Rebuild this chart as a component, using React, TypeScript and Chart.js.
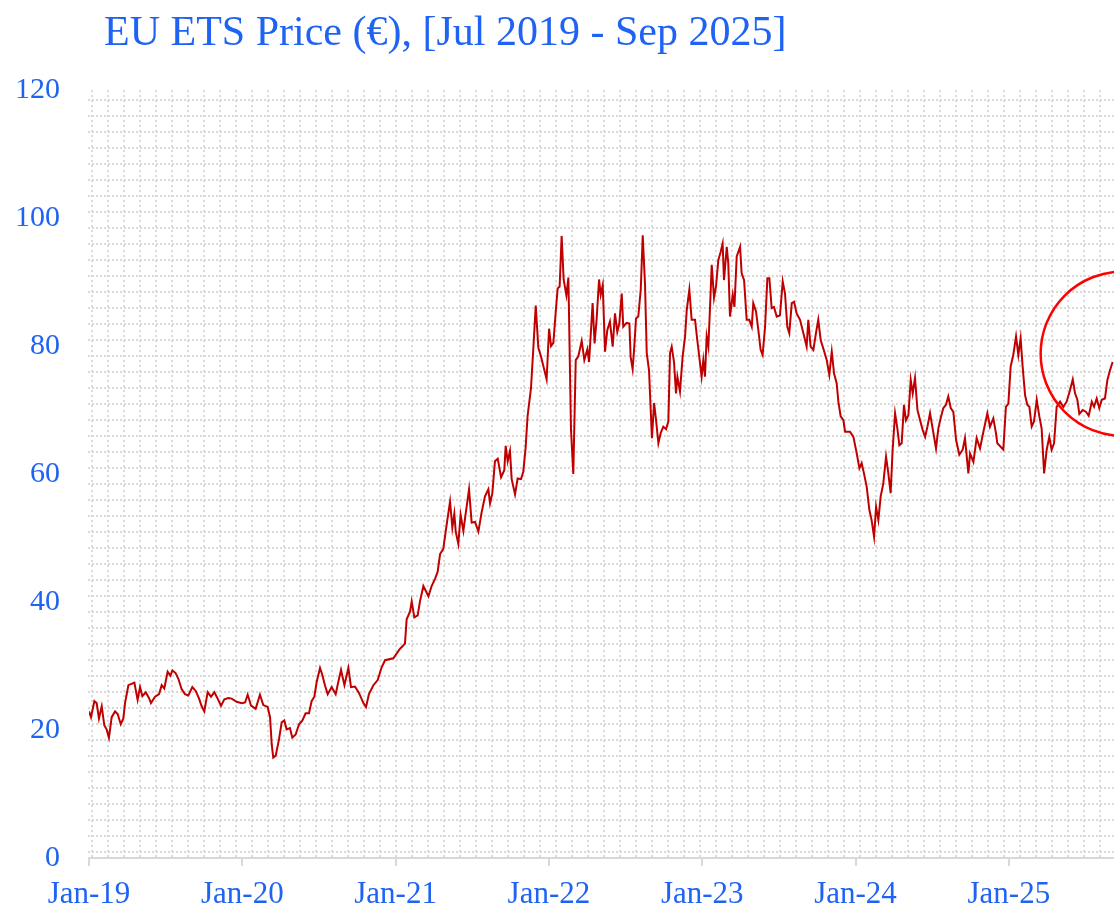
import React, { useEffect, useRef } from "react";
import { Chart, registerables } from "chart.js";

Chart.register(...registerables);

const TITLE = "EU ETS Price (€), [Jul 2019 - Sep 2025]";

// Time position in decimal years (2019.0 = Jan 2019)
const years = [
  2019.000, 2019.013, 2019.035, 2019.050, 2019.065, 2019.083, 2019.100, 2019.115, 2019.130, 2019.148,
  2019.170, 2019.187, 2019.207, 2019.224, 2019.235, 2019.257, 2019.296, 2019.317, 2019.333, 2019.348,
  2019.370, 2019.391, 2019.404, 2019.431, 2019.457, 2019.474, 2019.491, 2019.513, 2019.531, 2019.544,
  2019.565, 2019.583, 2019.604, 2019.626, 2019.648, 2019.674, 2019.696, 2019.718, 2019.735, 2019.752,
  2019.774, 2019.796, 2019.818, 2019.839, 2019.861, 2019.883, 2019.909, 2019.931, 2019.963, 2019.996,
  2020.018, 2020.035, 2020.057, 2020.087, 2020.115, 2020.137, 2020.165, 2020.181, 2020.192, 2020.202,
  2020.218, 2020.239, 2020.257, 2020.274, 2020.289, 2020.311, 2020.326, 2020.348, 2020.370, 2020.392,
  2020.413, 2020.435, 2020.452, 2020.470, 2020.485, 2020.507, 2020.522, 2020.539, 2020.557, 2020.583,
  2020.609, 2020.626, 2020.644, 2020.666, 2020.692, 2020.709, 2020.735, 2020.761, 2020.790, 2020.807,
  2020.826, 2020.855, 2020.883, 2020.909, 2020.931, 2020.985, 2021.029, 2021.061, 2021.072, 2021.094,
  2021.105, 2021.122, 2021.144, 2021.159, 2021.181, 2021.214, 2021.235, 2021.257, 2021.274, 2021.290,
  2021.311, 2021.333, 2021.355, 2021.370, 2021.383, 2021.392, 2021.409, 2021.424, 2021.442, 2021.457,
  2021.479, 2021.496, 2021.518, 2021.540, 2021.561, 2021.583, 2021.605, 2021.616, 2021.631, 2021.648,
  2021.666, 2021.688, 2021.709, 2021.718, 2021.731, 2021.746, 2021.757, 2021.779, 2021.796, 2021.818,
  2021.833, 2021.848, 2021.861, 2021.883, 2021.898, 2021.914, 2021.931, 2021.948, 2021.985, 2022.001,
  2022.014, 2022.029, 2022.044, 2022.057, 2022.070, 2022.083, 2022.096, 2022.114, 2022.127, 2022.144,
  2022.159, 2022.175, 2022.192, 2022.214, 2022.231, 2022.251, 2022.262,
  2022.285, 2022.298, 2022.311, 2022.327, 2022.338, 2022.351, 2022.366, 2022.381, 2022.398, 2022.416,
  2022.431, 2022.446, 2022.459, 2022.475, 2022.485, 2022.507, 2022.525, 2022.533, 2022.546, 2022.557,
  2022.568, 2022.583, 2022.599, 2022.612, 2022.627, 2022.638, 2022.653, 2022.664, 2022.672, 2022.686,
  2022.699, 2022.714, 2022.729, 2022.746, 2022.764, 2022.779, 2022.790, 2022.801, 2022.816, 2022.829,
  2022.838, 2022.855, 2022.872, 2022.888, 2022.899, 2022.916, 2022.931, 2022.953, 2022.968, 2022.996,
  2023.007, 2023.018, 2023.029, 2023.040, 2023.051, 2023.062, 2023.077, 2023.090, 2023.105, 2023.120,
  2023.133, 2023.142, 2023.160, 2023.170, 2023.181, 2023.199, 2023.210, 2023.225, 2023.247, 2023.257,
  2023.273, 2023.290, 2023.307, 2023.323, 2023.333, 2023.351, 2023.366, 2023.381, 2023.394, 2023.410,
  2023.425, 2023.438, 2023.453, 2023.468, 2023.486, 2023.507, 2023.525, 2023.540, 2023.555, 2023.568,
  2023.584, 2023.599, 2023.616, 2023.638, 2023.660, 2023.681, 2023.692, 2023.707, 2023.725, 2023.742,
  2023.757, 2023.773, 2023.790, 2023.812, 2023.829, 2023.845, 2023.860, 2023.877, 2023.888, 2023.903,
  2023.921, 2023.932, 2023.964, 2023.986, 2024.008, 2024.025, 2024.040, 2024.055, 2024.073, 2024.090,
  2024.105, 2024.121, 2024.134, 2024.149, 2024.164, 2024.181, 2024.199, 2024.214, 2024.229, 2024.242,
  2024.258, 2024.273, 2024.286, 2024.301, 2024.316, 2024.329, 2024.345, 2024.360, 2024.373, 2024.388,
  2024.404, 2024.421, 2024.438, 2024.454, 2024.469, 2024.486, 2024.508, 2024.525, 2024.540, 2024.555,
  2024.573, 2024.590, 2024.605, 2024.621, 2024.638, 2024.656, 2024.677, 2024.699, 2024.714, 2024.736,
  2024.747, 2024.769, 2024.790, 2024.812, 2024.834, 2024.860, 2024.877, 2024.899, 2024.916, 2024.925,
  2024.964, 2024.981, 2024.997, 2025.012, 2025.029, 2025.047, 2025.062, 2025.077, 2025.090, 2025.106,
  2025.121, 2025.134, 2025.149, 2025.164, 2025.182, 2025.199, 2025.214, 2025.230, 2025.247, 2025.264,
  2025.279, 2025.295, 2025.312, 2025.334, 2025.356, 2025.377, 2025.399, 2025.417, 2025.432, 2025.447,
  2025.460, 2025.482, 2025.504, 2025.521, 2025.541, 2025.556, 2025.573, 2025.590, 2025.606, 2025.627,
  2025.643, 2025.660, 2025.677,
];

// EU ETS price (€)
const prices = [
  22.9, 22.0, 24.5, 24.2, 21.8, 23.7, 20.7, 20.1, 18.8, 22.0,
  22.9, 22.5, 20.9, 21.8, 24.2, 27.0, 27.4, 24.7, 26.7, 25.3,
  25.9, 25.0, 24.2, 25.2, 25.6, 27.0, 26.5, 29.1, 28.5, 29.3,
  28.9, 28.0, 26.4, 25.6, 25.4, 26.7, 26.1, 24.9, 23.7, 22.9,
  25.9, 25.2, 25.9, 24.9, 23.8, 24.8, 25.0, 24.9, 24.4, 24.2,
  24.3, 25.5, 23.8, 23.3, 25.5, 23.9, 23.6, 22.0, 17.7, 15.7,
  16.0, 18.5, 21.2, 21.5, 20.1, 20.3, 18.8, 19.3, 20.9, 21.5,
  22.6, 22.6, 24.5, 25.2, 27.5, 29.7, 28.6, 27.0, 25.6, 26.7,
  25.6, 27.5, 29.4, 27.0, 29.7, 26.7, 26.8, 25.8, 24.2, 23.6,
  25.6, 27.0, 27.8, 29.8, 30.9, 31.2, 32.7, 33.5, 37.3, 38.5,
  40.1, 37.6, 37.9, 40.1, 42.5, 40.9, 42.5, 43.6, 44.7, 47.5,
  48.3, 52.1, 55.7, 51.6, 53.8, 51.0, 49.1, 53.6, 51.1, 53.8,
  57.6, 52.4, 52.5, 51.0, 54.0, 56.5, 57.6, 55.4, 57.0, 62.0,
  62.4, 59.5, 60.6, 64.4, 62.0, 63.6, 59.2, 56.8, 59.3, 59.2,
  60.4, 64.1, 69.1, 73.4, 79.5, 86.3, 79.7, 78.4, 74.8, 82.7,
  80.0, 80.5, 85.2, 89.0, 89.3, 97.2, 90.4, 87.9, 90.7, 66.9,
  60.0, 77.8, 78.4, 80.8, 77.8, 79.5, 77.5,
  86.7, 80.4, 84.1, 90.4, 88.0, 89.5, 79.1, 82.5, 83.8, 79.9,
  85.1, 82.2, 83.5, 88.2, 83.0, 83.6, 83.5, 78.3, 76.4, 79.9,
  84.3, 84.6, 88.8, 97.3, 89.5, 78.9, 76.2, 70.0, 65.6, 71.1,
  68.4, 64.8, 66.4, 67.4, 67.0, 68.2, 78.9, 79.9, 77.5, 72.6,
  75.2, 72.9, 78.3, 81.5, 85.6, 88.8, 84.1, 84.1, 80.9, 75.2,
  77.8, 75.2, 81.5, 79.9, 86.1, 92.7, 87.5, 89.3, 93.4, 94.7,
  96.0, 90.3, 95.5, 92.9, 84.6, 88.0, 86.1, 94.0, 95.5, 91.4,
  90.3, 84.1, 84.1, 83.0, 86.7, 85.4, 82.5, 79.4, 78.6, 83.0,
  90.6, 90.6, 85.9, 86.1, 84.6, 84.8, 90.1, 88.2, 83.0, 82.0,
  86.7, 86.9, 85.1, 84.1, 82.0, 79.9, 84.1, 79.9, 79.4, 82.0,
  84.1, 80.9, 79.6, 77.8, 75.5, 79.1, 75.7, 74.2, 71.3, 69.0,
  68.4, 66.6, 66.6, 65.8, 63.2, 60.9, 61.7, 60.1, 58.0, 54.4,
  52.8, 50.2, 54.9, 52.8, 56.5, 58.5, 62.7, 60.1, 57.0, 63.8,
  69.5, 67.1, 64.5, 64.8, 70.8, 68.4, 69.2, 74.7, 72.6, 75.0,
  70.0, 68.4, 66.9, 65.8, 67.4, 69.5, 66.4, 64.0, 67.1, 68.7,
  70.3, 70.8, 72.1, 70.3, 69.7, 65.3, 63.0, 63.8, 65.6, 60.1,
  63.2, 61.9, 65.6, 64.0, 66.6, 69.5, 67.4, 68.7, 66.4, 64.8,
  63.8, 70.5, 71.0, 76.8, 78.6, 81.5, 78.6, 81.2, 76.8, 72.3,
  70.8, 70.5, 67.4, 68.2, 71.6, 69.0, 67.1, 60.1, 63.8, 65.8,
  63.8, 64.8, 70.5, 71.3, 70.5, 71.3, 73.1, 74.8, 72.6, 71.6,
  69.4, 70.0, 69.7, 69.1, 71.3, 70.5, 71.8, 70.3, 71.6, 71.8,
  74.7, 76.2, 77.5,
];

const X_MIN = 2019;
const X_MAX = 2025.686;
const Y_MIN = 0;
const Y_MAX = 120;
const Y_STEP = 20;

// Highlight circle (in data units)
const CIRCLE_YEAR = 2025.744;
const CIRCLE_PRICE = 78.8;
const CIRCLE_RADIUS_PRICE = 12.85;

const BLUE = "#1f63f4";
const LINE_RED = "#c00000";
const CIRCLE_RED = "#ff0000";
const FONT = "'Liberation Serif', 'Times New Roman', serif";

export default function App() {
  const ref = useRef<HTMLCanvasElement>(null);

  useEffect(() => {
    document.body.style.margin = "0";
    const canvas = ref.current;
    if (!canvas) return;

    const dotGrid = {
      id: "dotGrid",
      beforeDatasetsDraw(chart: any) {
        const { ctx, chartArea } = chart;
        const { left, right, top, bottom } = chartArea;
        ctx.save();
        ctx.strokeStyle = "#dadada";
        ctx.lineWidth = 2;
        ctx.setLineDash([2, 2]);
        ctx.beginPath();
        for (let y = Math.round(bottom - 6); y >= top + 2; y -= 16) {
          ctx.moveTo(left - 1, y);
          ctx.lineTo(right, y);
        }
        ctx.stroke();
        ctx.setLineDash([2, 3]);
        ctx.beginPath();
        for (let x = Math.round(left + 3); x <= right; x += 16) {
          ctx.moveTo(x, top);
          ctx.lineTo(x, bottom - 1);
        }
        ctx.stroke();
        ctx.restore();
      },
    };

    const circle = {
      id: "highlightCircle",
      afterDatasetsDraw(chart: any) {
        const { ctx } = chart;
        const xs = chart.scales.x;
        const ys = chart.scales.y;
        const cx = xs.getPixelForValue(CIRCLE_YEAR);
        const cy = ys.getPixelForValue(CIRCLE_PRICE);
        const r = ys.getPixelForValue(CIRCLE_PRICE - CIRCLE_RADIUS_PRICE) - cy;
        ctx.save();
        ctx.strokeStyle = CIRCLE_RED;
        ctx.lineWidth = 2.5;
        ctx.beginPath();
        ctx.arc(cx, cy, r, 0, Math.PI * 2);
        ctx.stroke();
        ctx.restore();
      },
    };

    const chart = new Chart(canvas, {
      type: "line",
      data: {
        datasets: [
          {
            label: "EU ETS Price",
            data: years.map((x, i) => ({ x, y: prices[i] })),
            borderColor: LINE_RED,
            borderWidth: 2,
            pointRadius: 0,
            tension: 0,
            fill: false,
          },
        ],
      },
      options: {
        animation: false,
        responsive: false,
        maintainAspectRatio: false,
        layout: { padding: { top: 90, left: 0, right: 0, bottom: 0 } },
        plugins: {
          legend: { display: false },
          tooltip: { enabled: false },
          title: { display: false },
        },
        scales: {
          x: {
            type: "linear",
            min: X_MIN,
            max: X_MAX,
            afterFit: (s: any) => {
              s.height = 52;
            },
            ticks: {
              stepSize: 1,
              includeBounds: false,
              autoSkip: false,
              maxRotation: 0,
              color: BLUE,
              padding: 10,
              font: { family: FONT, size: 31 },
              callback: (v: any) => {
                const n = Number(v);
                if (Math.abs(n - Math.round(n)) > 1e-6) return "";
                return "Jan-" + String(Math.round(n)).slice(2);
              },
            },
            grid: {
              drawOnChartArea: false,
              drawTicks: true,
              tickLength: 8,
              color: "#d9d9d9",
              lineWidth: 2,
            },
            border: { display: true, color: "#d9d9d9", width: 2 },
          },
          y: {
            min: Y_MIN,
            max: Y_MAX,
            afterFit: (s: any) => {
              s.width = 89;
            },
            ticks: {
              stepSize: Y_STEP,
              color: BLUE,
              padding: 21,
              font: { family: FONT, size: 30 },
            },
            grid: { display: false },
            border: { display: false },
          },
        },
      },
      plugins: [dotGrid, circle],
    });

    return () => chart.destroy();
  }, []);

  return (
    <div style={{ position: "relative", width: 1114, height: 910, background: "#fff", overflow: "hidden" }}>
      <div
        style={{
          position: "absolute",
          left: 104,
          top: 10,
          fontFamily: FONT,
          fontSize: 42,
          lineHeight: 1,
          color: BLUE,
          whiteSpace: "nowrap",
        }}
      >
        {TITLE}
      </div>
      <canvas ref={ref} width={1114} height={910} style={{ display: "block" }} />
    </div>
  );
}
